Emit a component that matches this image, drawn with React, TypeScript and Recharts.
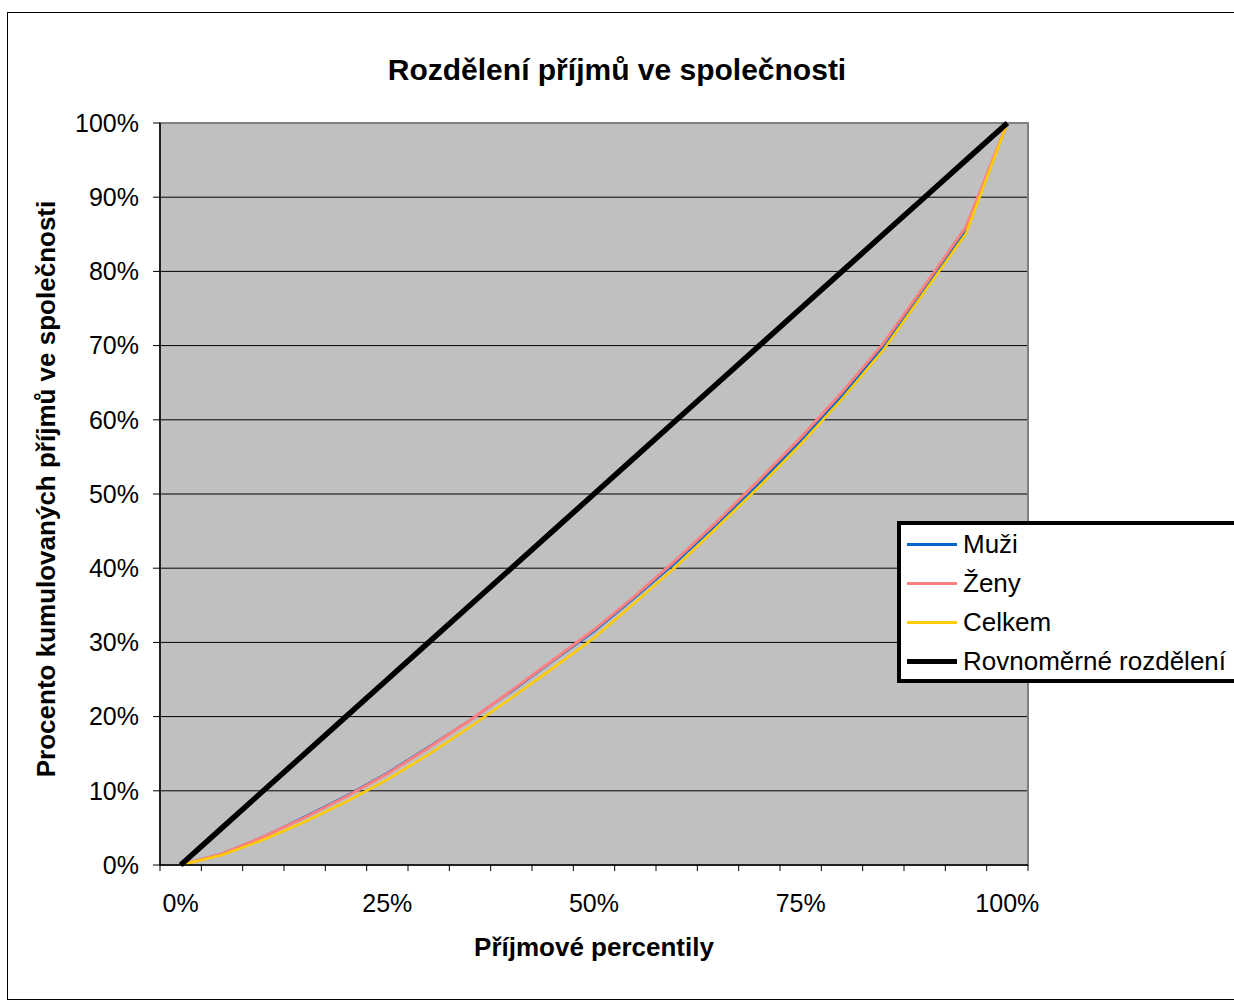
import { LineChart, Line, XAxis, YAxis, CartesianGrid, ReferenceArea, Legend, Label } from "recharts";

const FONT = "'Liberation Sans', Arial, sans-serif";

// percentily (osa X)
const percentiles = [0, 5, 10, 15, 20, 25, 30, 35, 40, 45, 50, 55, 60, 65, 70, 75, 80, 85, 90, 95, 100];

// kumulovaný podíl příjmů (%)
const muzi = [0, 1.5, 3.8, 6.5, 9.3, 12.4, 15.9, 19.5, 23.4, 27.5, 31.5, 36.1, 40.9, 46.1, 51.5, 57.2, 63.3, 69.9, 77.6, 85.6, 100];
const zeny = [0, 1.5, 3.8, 6.4, 9.2, 12.3, 15.8, 19.5, 23.5, 27.6, 31.7, 36.3, 41.2, 46.4, 51.9, 57.6, 63.7, 70.3, 78.1, 86.0, 100];
const celkem = [0, 1.35, 3.4, 5.8, 8.5, 11.5, 14.9, 18.6, 22.5, 26.5, 30.6, 35.4, 40.3, 45.6, 51.0, 56.7, 62.8, 69.4, 77.3, 85.1, 100];
const rovnomerne = [0, 5, 10, 15, 20, 25, 30, 35, 40, 45, 50, 55, 60, 65, 70, 75, 80, 85, 90, 95, 100];

const yTicks = [0, 10, 20, 30, 40, 50, 60, 70, 80, 90, 100];
const xLabelTicks = [0, 25, 50, 75, 100];
// hranice kategorií (značky na ose X)
const xMarkTicks = [-2.5, 2.5, 7.5, 12.5, 17.5, 22.5, 27.5, 32.5, 37.5, 42.5, 47.5, 52.5, 57.5, 62.5, 67.5, 72.5, 77.5, 82.5, 87.5, 92.5, 97.5, 102.5];

const data = percentiles.map((p, i) => ({
  p,
  muzi: muzi[i],
  zeny: zeny[i],
  celkem: celkem[i],
  rovnomerne: rovnomerne[i],
}));

const series = [
  { key: "muzi", name: "Muži", color: "#0066CC", width: 2.5 },
  { key: "zeny", name: "Ženy", color: "#FF8080", width: 3 },
  { key: "celkem", name: "Celkem", color: "#FFCC00", width: 2.5 },
  { key: "rovnomerne", name: "Rovnoměrné rozdělení", color: "#000000", width: 5.5 },
];

const renderLegend = (props: any) => {
  const items = [...(props.payload || [])].sort(
    (a: any, b: any) =>
      series.findIndex((s) => s.name === a.value) - series.findIndex((s) => s.name === b.value)
  );
  return (
    <div
      style={{
        background: "#fff",
        border: "4px solid #000",
        boxSizing: "border-box",
        width: 400,
        height: 162,
        fontFamily: FONT,
        fontSize: 26,
        color: "#000",
      }}
    >
      {items.map((entry: any) => {
        const s = series.find((x) => x.name === entry.value);
        return (
          <div key={entry.value} style={{ display: "flex", alignItems: "center", height: 39 }}>
            <div style={{ width: 50, height: s ? s.width : 3, background: entry.color, marginLeft: 6, marginRight: 6 }} />
            <span style={{ whiteSpace: "nowrap" }}>{entry.value}</span>
          </div>
        );
      })}
    </div>
  );
};

export default function App() {
  return (
    <div
      style={{
        position: "absolute",
        left: 0,
        top: 0,
        width: 1234,
        height: 1001,
        overflow: "hidden",
        background: "#fff",
        fontFamily: FONT,
      }}
    >
      <div style={{ position: "absolute", left: 7, top: 12, width: 1260, height: 986, border: "1px solid #000" }} />
      <div
        style={{
          position: "absolute",
          left: 0,
          top: 55,
          width: 1234,
          textAlign: "center",
          fontSize: 30,
          fontWeight: "bold",
          lineHeight: "30px",
        }}
      >
        Rozdělení příjmů ve společnosti
      </div>
      <div style={{ position: "absolute", left: 0, top: 0 }}>
        <LineChart width={1234} height={1001} data={data} margin={{ top: 123, right: 206, bottom: 86, left: 8 }}>
          <CartesianGrid vertical={false} stroke="#000" fill="#C0C0C0" />
          <ReferenceArea
            xAxisId="axisMarks"
            x1={-2.5}
            x2={102.5}
            y1={0}
            y2={100}
            fill="none"
            stroke="#808080"
            strokeWidth={2}
            ifOverflow="visible"
          />
          <XAxis
            xAxisId="axisMarks"
            dataKey="p"
            type="number"
            domain={[-2.5, 102.5]}
            ticks={xMarkTicks}
            interval={0}
            tickFormatter={() => ""}
            tick={{ fontSize: 1 }}
            tickSize={6}
            tickLine={{ stroke: "#000" }}
            axisLine={{ stroke: "#000", strokeWidth: 1.5 }}
            height={10}
          />
          <XAxis
            xAxisId="axisText"
            dataKey="p"
            type="number"
            domain={[-2.5, 102.5]}
            ticks={xLabelTicks}
            interval={0}
            tickFormatter={(v) => `${v}%`}
            tickLine={false}
            axisLine={false}
            tickSize={0}
            tickMargin={19}
            tick={{ fill: "#000", fontSize: 25, fontFamily: FONT }}
            height={40}
          >
            <Label
              content={(props: any) => {
                const vb = props.viewBox || {};
                return (
                  <text
                    x={vb.x + vb.width / 2}
                    y={vb.y + 81}
                    textAnchor="middle"
                    fontFamily={FONT}
                    fontSize={26}
                    fontWeight="bold"
                    fill="#000"
                  >
                    Příjmové percentily
                  </text>
                );
              }}
            />
          </XAxis>
          <YAxis
            type="number"
            domain={[0, 100]}
            ticks={yTicks}
            interval={0}
            tickFormatter={(v) => `${v}%`}
            width={152}
            tickSize={7}
            tickMargin={14}
            tickLine={{ stroke: "#000" }}
            axisLine={{ stroke: "#000", strokeWidth: 1.5 }}
            tick={{ fill: "#000", fontSize: 25, fontFamily: FONT }}
          >
            <Label
              content={(props: any) => {
                const vb = props.viewBox || {};
                const x = vb.x + 38;
                const y = vb.y + vb.height / 2 - 5;
                return (
                  <text
                    x={x}
                    y={y}
                    transform={`rotate(-90, ${x}, ${y})`}
                    textAnchor="middle"
                    dominantBaseline="central"
                    fontFamily={FONT}
                    fontSize={26}
                    fontWeight="bold"
                    fill="#000"
                  >
                    Procento kumulovaných příjmů ve společnosti
                  </text>
                );
              }}
            />
          </YAxis>
          <Legend
            layout="vertical"
            align="center"
            verticalAlign="middle"
            wrapperStyle={{ left: 897, top: 521, width: 400 }}
            content={renderLegend}
          />
          {series.map((s) => (
            <Line
              key={s.key}
              xAxisId="axisMarks"
              type="linear"
              dataKey={s.key}
              name={s.name}
              stroke={s.color}
              strokeWidth={s.width}
              dot={false}
              activeDot={false}
              isAnimationActive={false}
            />
          ))}
        </LineChart>
      </div>
    </div>
  );
}
